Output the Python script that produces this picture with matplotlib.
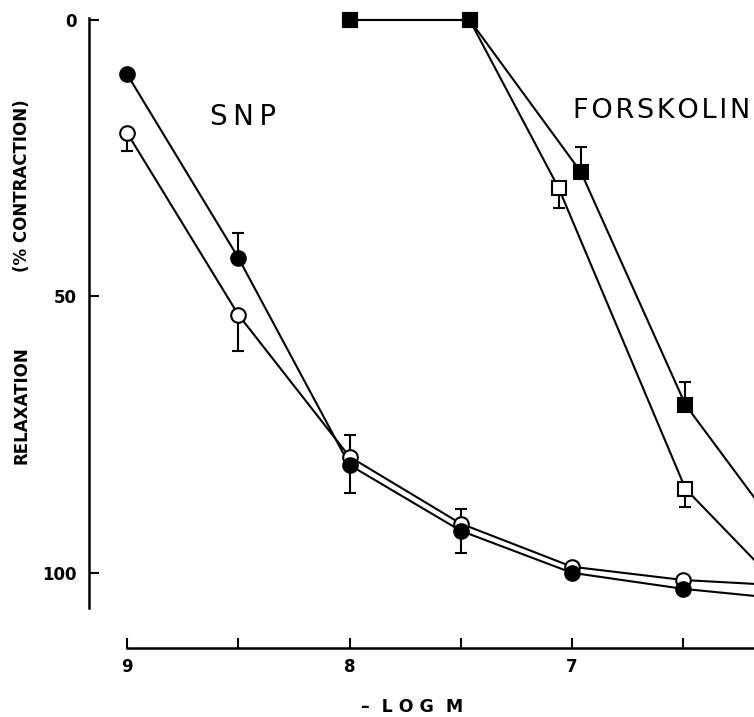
import numpy as np
from matplotlib import pyplot as plt

# -log M positions and relaxation (% contraction)
snp_x = [9, 8.5, 8, 7.5, 7, 6.5, 6]
snp_open = [20.4, 53.3, 79.0, 91.1, 98.9, 101.3, 102.4]
snp_open_up = [0, 0, 4.0, 2.7, 0, 0, 0]
snp_open_down = [3.3, 6.6, 0, 0, 0, 0, 0]
snp_filled = [9.8, 43.0, 80.5, 92.4, 100.0, 102.9, 104.9]
snp_filled_up = [0, 4.5, 0, 0, 0, 0, 0]
snp_filled_down = [0, 0, 5.0, 4.0, 0, 0, 0]

fsk_open_x = [8, 7.46, 7.06, 6.49, 6.0]
fsk_open = [0, 0, 30.4, 84.8, 105.2]
fsk_open_up = [0, 0, 0, 0, 0]
fsk_open_down = [0, 0, 3.6, 3.3, 0]
fsk_filled_x = [8, 7.46, 6.96, 6.49, 6.0]
fsk_filled = [0, 0, 27.5, 69.6, 96.2]
fsk_filled_up = [0, 0, 4.5, 4.1, 0]
fsk_filled_down = [0, 0, 0, 0, 0]

y_ticks = [0, 50, 100]
x_ticks = [9, 8.5, 8, 7.5, 7, 6.5]
x_ticklabels = ["9", "", "8", "", "7", ""]


def draw_series(ax, x, y, up, down, marker, filled):
    """line + markers + one-sided error bars (only where an error was drawn)"""
    x = np.array(x)
    y = np.array(y)
    up = np.array(up)
    down = np.array(down)
    face = "black" if filled else "white"
    ax.plot(x, y, color="black", linewidth=1.5, zorder=2, clip_on=False)
    has_err = (up > 0) | (down > 0)
    ax.errorbar(x[has_err], y[has_err], yerr=[up[has_err], down[has_err]],
                fmt="none", ecolor="black", elinewidth=1.5, capsize=4,
                capthick=1.5, zorder=3, clip_on=False)
    ax.plot(x, y, linestyle="none", marker=marker, markersize=10.5,
            markerfacecolor=face, markeredgecolor="black",
            markeredgewidth=1.5, zorder=4, clip_on=False)


fig = plt.figure(figsize=(7.54, 7.17), dpi=100)
ax = fig.add_axes([89 / 754, 1 - 648 / 717, 665 / 754, 630 / 717])

draw_series(ax, snp_x, snp_open, snp_open_up, snp_open_down, "o", False)
draw_series(ax, snp_x, snp_filled, snp_filled_up, snp_filled_down, "o", True)
draw_series(ax, fsk_open_x, fsk_open, fsk_open_up, fsk_open_down, "s", False)
draw_series(ax, fsk_filled_x, fsk_filled, fsk_filled_up, fsk_filled_down, "s", True)

ax.set_xlim(9.171, 6.182)
ax.set_ylim(113.6, -0.36)

ax.spines["top"].set_visible(False)
ax.spines["right"].set_visible(False)
ax.spines["left"].set_bounds(-0.36, 106.3)
ax.spines["bottom"].set_bounds(9, 6.182)
ax.spines["left"].set_linewidth(1.8)
ax.spines["bottom"].set_linewidth(1.8)

ax.set_yticks(y_ticks)
ax.set_yticklabels([str(v) for v in y_ticks], fontsize=12, fontweight="bold")
ax.set_xticks(x_ticks)
ax.set_xticklabels(x_ticklabels, fontsize=12, fontweight="bold")
ax.tick_params(axis="both", direction="in", length=7, width=1.5)
ax.tick_params(axis="y", pad=9)
ax.tick_params(axis="x", pad=7)

# curve labels (slightly letter-spaced like the original)
fig.text(243 / 754, 1 - 117 / 717, "S\u2009N\u2009P", fontsize=20,
         ha="center", va="center")
fig.text(750 / 754, 1 - 111 / 717, "\u200a".join("FORSKOLIN"), fontsize=19.5,
         ha="right", va="center")

fig.text(22 / 754, 1 - 405 / 717, "RELAXATION", rotation=90, fontsize=12,
         fontweight="bold", ha="center", va="center")
fig.text(22 / 754, 1 - 186 / 717, "(% CONTRACTION)", rotation=90, fontsize=12,
         fontweight="bold", ha="center", va="center")
fig.text(412 / 754, 1 - 707 / 717, "\u2013  L O G  M", fontsize=12.5,
         fontweight="bold", ha="center", va="center")

fig.savefig("out.png", dpi=100)
